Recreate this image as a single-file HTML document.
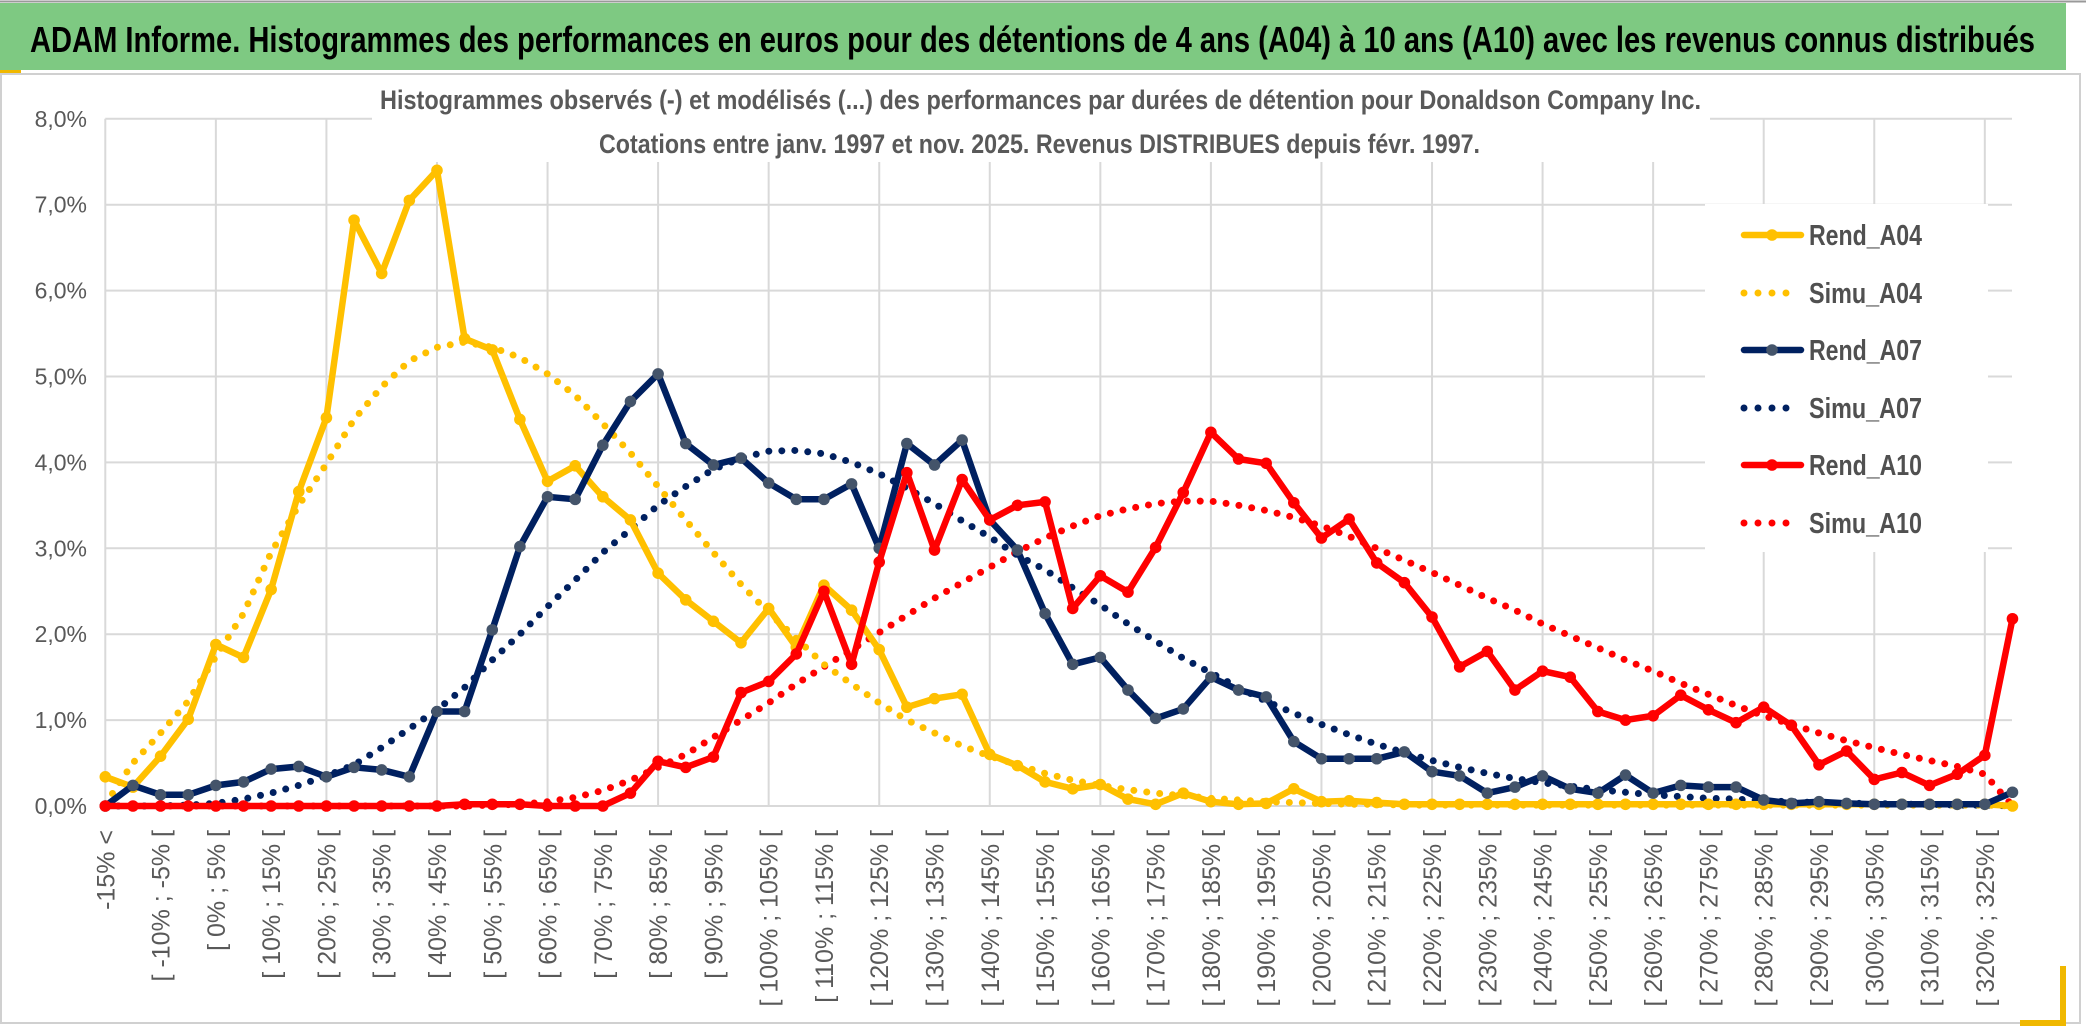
<!DOCTYPE html>
<html><head><meta charset="utf-8"><style>
html,body{margin:0;padding:0;background:#fff;}
svg{display:block;font-family:"Liberation Sans Narrow","Liberation Sans",sans-serif;}
</style></head><body>
<svg id="chart" width="2086" height="1033" viewBox="0 0 2086 1033" xmlns="http://www.w3.org/2000/svg">
<rect x="0" y="0" width="2086" height="1033" fill="#fff"/>
<rect x="0" y="3" width="2066" height="67" fill="#7ec982"/>
<line x1="0" y1="1.5" x2="2086" y2="1.5" stroke="#999" stroke-width="2"/>
<text x="30" y="52" font-size="36" font-weight="bold" fill="#000" textLength="2005" lengthAdjust="spacingAndGlyphs">ADAM Informe. Histogrammes des performances en euros pour des détentions de 4 ans (A04) à 10 ans (A10) avec les revenus connus distribués</text>
<rect x="0" y="70" width="21" height="4" fill="#f0b800"/>
<rect x="1" y="74" width="2079" height="949" fill="none" stroke="#d0d0d0" stroke-width="2"/>
<g id="grid"></g>
<g id="series"></g>
<rect x="372" y="80" width="1338" height="82" fill="#fff"/>
<text x="380" y="109" font-size="27" font-weight="bold" fill="#595959" textLength="1321" lengthAdjust="spacingAndGlyphs">Histogrammes observés (-) et modélisés (...) des performances par durées de détention pour Donaldson Company Inc.</text>
<text x="599" y="153" font-size="27" font-weight="bold" fill="#595959" textLength="881" lengthAdjust="spacingAndGlyphs">Cotations entre janv. 1997 et nov. 2025. Revenus DISTRIBUES depuis févr. 1997.</text>
<g id="axes"></g>
<g id="legend"></g>
<rect x="2060" y="966" width="6" height="60" fill="#f0b800"/>
<rect x="2020" y="1020" width="46" height="6" fill="#f0b800"/>
</svg>
<script>
const categories = (function(){ const c=["-15% <","[ -15% ; -10% ["]; for(let v=-10; v<=325; v+=5){ c.push("[ "+v+"% ; "+(v+5)+"% ["); } return c; })();
const rendA04 = [0.34,0.22,0.58,1.01,1.88,1.73,2.52,3.66,4.52,6.82,6.2,7.05,7.4,5.44,5.31,4.5,3.78,3.96,3.6,3.33,2.71,2.4,2.15,1.9,2.3,1.85,2.57,2.28,1.82,1.15,1.25,1.3,0.6,0.47,0.28,0.2,0.25,0.08,0.02,0.15,0.05,0.02,0.03,0.2,0.05,0.06,0.04,0.02,0.02,0.02,0.02,0.02,0.02,0.02,0.02,0.02,0.02,0.02,0.02,0.02,0.02,0.02,0.02,0.02,0.02,0.02,0.02,0.02,0.02,0.0];
const simuA04 = [0.02,0.5,0.85,1.22,1.74,2.24,2.95,3.5,3.98,4.5,4.88,5.18,5.34,5.4,5.34,5.22,5.03,4.78,4.45,4.11,3.72,3.33,2.95,2.58,2.25,1.95,1.65,1.42,1.2,1.0,0.85,0.7,0.58,0.48,0.38,0.3,0.24,0.19,0.15,0.12,0.09,0.07,0.05,0.04,0.03,0.02,0.02,0.01,0.01,0.01,0.01,0.01,0.01,0.01,0.01,0.01,0.01,0.01,0.01,0.01,0.01,0.01,0.01,0.01,0.01,0.01,0.01,0.01,0.01,0.0];
const rendA07 = [0.0,0.24,0.13,0.13,0.24,0.28,0.43,0.46,0.34,0.45,0.42,0.34,1.1,1.1,2.05,3.02,3.6,3.57,4.2,4.71,5.03,4.22,3.97,4.05,3.76,3.57,3.57,3.75,3.0,4.22,3.97,4.26,3.33,2.98,2.24,1.65,1.73,1.35,1.02,1.13,1.5,1.35,1.27,0.75,0.55,0.55,0.55,0.63,0.4,0.35,0.15,0.22,0.35,0.2,0.15,0.36,0.15,0.24,0.22,0.22,0.07,0.03,0.05,0.03,0.02,0.02,0.02,0.02,0.02,0.16];
const simuA07 = [0,0,0,0.01,0.03,0.08,0.15,0.24,0.35,0.48,0.68,0.9,1.12,1.38,1.7,2.0,2.32,2.63,2.95,3.22,3.5,3.72,3.92,4.05,4.13,4.14,4.1,4.0,3.87,3.7,3.52,3.32,3.13,2.92,2.75,2.54,2.34,2.12,1.92,1.72,1.55,1.38,1.22,1.08,0.95,0.83,0.72,0.62,0.53,0.45,0.38,0.32,0.27,0.23,0.19,0.16,0.13,0.11,0.09,0.08,0.06,0.05,0.04,0.03,0.03,0.02,0.02,0.01,0.01,0.0];
const rendA10 = [0,0,0,0,0,0,0,0,0,0,0,0,0,0.02,0.02,0.02,0,0,0,0.15,0.52,0.45,0.57,1.32,1.45,1.77,2.5,1.65,2.84,3.88,2.98,3.8,3.33,3.5,3.54,2.3,2.68,2.49,3.01,3.65,4.35,4.04,3.99,3.53,3.12,3.34,2.83,2.6,2.2,1.62,1.8,1.35,1.57,1.5,1.1,1.0,1.05,1.29,1.12,0.97,1.15,0.94,0.48,0.64,0.31,0.39,0.24,0.37,0.59,2.18];
const simuA10 = [0,0,0,0,0,0,0,0,0,0,0,0,0,0,0.01,0.02,0.05,0.1,0.18,0.3,0.45,0.6,0.8,1.0,1.2,1.42,1.62,1.82,2.02,2.22,2.42,2.6,2.78,2.96,3.12,3.26,3.38,3.46,3.52,3.55,3.55,3.5,3.44,3.36,3.26,3.14,3.0,2.86,2.72,2.57,2.42,2.28,2.12,1.98,1.84,1.7,1.57,1.43,1.3,1.17,1.05,0.95,0.85,0.76,0.68,0.6,0.53,0.46,0.37,0.0];
const yTicks = [0,1,2,3,4,5,6,7,8];
const yTickLabels = ["0,0%","1,0%","2,0%","3,0%","4,0%","5,0%","6,0%","7,0%","8,0%"];
const legendNames = ["Rend_A04","Simu_A04","Rend_A07","Simu_A07","Rend_A10","Simu_A10"];

const NS="http://www.w3.org/2000/svg";
const X0=105.3, STEP=27.64, Y0=806, YPX=85.9, XR=2012;
function xs(i){ return X0 + i*STEP; }
function ys(v){ return Y0 - v*YPX; }
function mk(tag, attrs, parent){ const e=document.createElementNS(NS,tag); for(const k in attrs) e.setAttribute(k, attrs[k]); parent.appendChild(e); return e; }

const grid=document.getElementById('grid'), axes=document.getElementById('axes'), series=document.getElementById('series'), legend=document.getElementById('legend');
yTicks.forEach((t,k)=>{
  const l=mk('line',{x1:X0,x2:XR,y1:ys(t),y2:ys(t),stroke:'#d9d9d9','stroke-width':2},grid);
  
  
  const tx=mk('text',{x:87,y:ys(t)+8,'text-anchor':'end','font-size':23,fill:'#595959'},axes);
  tx.textContent=yTickLabels[k];
  
  
});
categories.forEach((c,i)=>{
  if(i%4===0){
    const l=mk('line',{x1:xs(i),x2:xs(i),y1:ys(8),y2:Y0,stroke:'#d9d9d9','stroke-width':2},grid);
    
    
  }
  if(i%2===0){
    const tx=mk('text',{x:0,y:0,'text-anchor':'end','font-size':25,fill:'#595959',transform:'translate('+(xs(i)+9)+',830) rotate(-90)'},axes);
    tx.textContent=c;
    
    
  }
});

function drawLine(data, color, dotted, markerFill, name){
  const pts=data.map((v,i)=>xs(i).toFixed(1)+','+ys(v).toFixed(1)).join(' ');
  const pl=mk('polyline',{points:pts,fill:'none',stroke:color,'stroke-width':dotted?7:6.5,'stroke-linejoin':'round','stroke-linecap':'round'},series);
  if(dotted) pl.setAttribute('stroke-dasharray','0 13');
  
  
  if(!dotted){
    data.forEach((v,i)=>{
      const c=mk('circle',{cx:xs(i),cy:ys(v),r:5.8,fill:markerFill},series);
      
      
    });
  }
}
drawLine(simuA10,'#ff0000',true,null,'simu-a10');
drawLine(simuA07,'#002060',true,null,'simu-a07');
drawLine(simuA04,'#ffc000',true,null,'simu-a04');
drawLine(rendA04,'#ffc000',false,'#ffc000','rend-a04');
drawLine(rendA07,'#002060',false,'#44546a','rend-a07');
drawLine(rendA10,'#ff0000',false,'#ff0000','rend-a10');

mk('rect',{x:1705,y:204,width:283,height:348,fill:'#fff'},legend);
const lcolors=['#ffc000','#ffc000','#002060','#002060','#ff0000','#ff0000'];
const lmark=['#ffc000',null,'#44546a',null,'#ff0000',null];
const lys=[235,293,350,408,465,523];
legendNames.forEach((n,k)=>{
  const y=lys[k];
  const g=mk('g',{},legend);
  
  
  if(lmark[k]){
    mk('line',{x1:1744,x2:1801,y1:y,y2:y,stroke:lcolors[k],'stroke-width':6.5,'stroke-linecap':'round'},g);
    mk('circle',{cx:1772,cy:y,r:5.8,fill:lmark[k]},g);
  } else {
    mk('line',{x1:1744,x2:1800,y1:y,y2:y,stroke:lcolors[k],'stroke-width':7,'stroke-linecap':'round','stroke-dasharray':'0 14'},g);
  }
  const t=mk('text',{x:1809,y:y+10,'font-size':29,'font-weight':'bold',fill:'#505050',textLength:113,lengthAdjust:'spacingAndGlyphs'},g);
  t.textContent=n;
});
</script>
</body></html>
